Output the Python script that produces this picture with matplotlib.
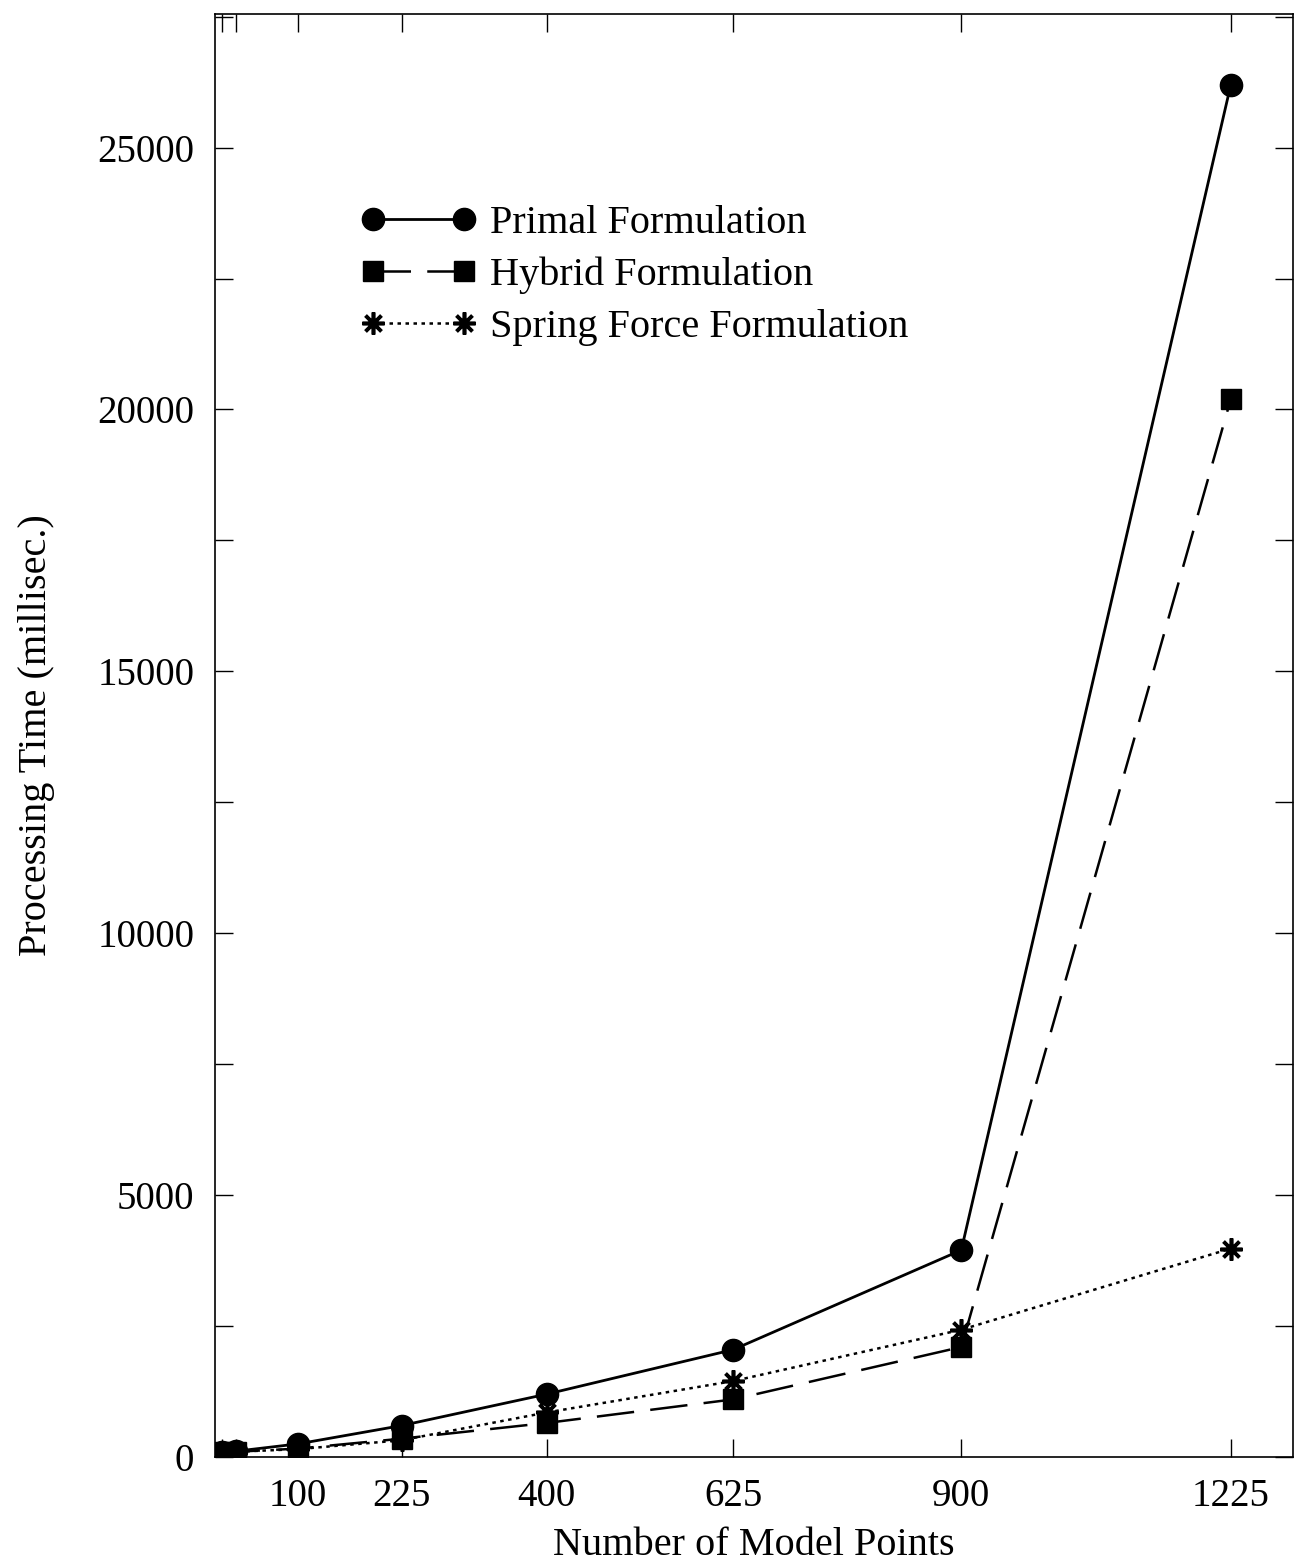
import numpy as np
import matplotlib.pyplot as plt
from matplotlib.ticker import MultipleLocator, FixedLocator

plt.rcParams['font.family'] = ['Liberation Serif', 'DejaVu Serif']

# data
n_points = [9, 25, 100, 225, 400, 625, 900, 1225]
primal = [100, 110, 250, 600, 1200, 2050, 3950, 26200]
hybrid = [90, 100, 160, 350, 650, 1100, 2100, 20200]
spring = [90, 100, 150, 320, 850, 1450, 2430, 3980]

tick_pos = [9, 25, 100, 225, 400, 625, 900, 1225]
tick_lab = ['', '', '100', '225', '400', '625', '900', '1225']

fig = plt.figure(figsize=[12.95, 15.62], dpi=100)
ax = fig.add_axes([215/1295, 1-1457/1562, (1293-215)/1295, (1457-14)/1562])

ax.plot(n_points, primal, color='black', linestyle='-', linewidth=2.0,
        marker='o', markersize=16, label='Primal Formulation')
ax.plot(n_points, hybrid, color='black', linestyle=(0, (15, 6.5)), linewidth=1.8,
        marker='s', markersize=14, label='Hybrid Formulation')
ax.plot(n_points, spring, color='black', linestyle=(0, (1.4, 1.8)), linewidth=1.8,
        marker=(8, 2, 0), markersize=16, markeredgewidth=2.6,
        label='Spring Force Formulation')

ax.set_xlim(0, 1300)
ax.set_ylim(0, 27550)

ax.xaxis.set_major_locator(FixedLocator(tick_pos))
ax.set_xticklabels(tick_lab)
ax.yaxis.set_major_locator(MultipleLocator(5000))
ax.yaxis.set_minor_locator(MultipleLocator(2500))

ax.tick_params(axis='both', which='both', direction='in', top=True, right=True,
               width=1, labelsize=28)
ax.tick_params(axis='both', which='major', length=13)
ax.tick_params(axis='y', which='minor', length=13)
ax.tick_params(axis='x', pad=15)
ax.tick_params(axis='y', pad=15)
for s in ax.spines.values():
    s.set_linewidth(1.2)

ax.set_xlabel('Number of Model Points', fontsize=29, labelpad=9)
ax.set_ylabel('Processing Time (millisec.)', fontsize=29, labelpad=30)

leg = ax.legend(loc='upper left', bbox_to_anchor=(361/1295, 1-205/1562),
                bbox_transform=fig.transFigure, frameon=False, fontsize=29,
                numpoints=2, handlelength=2.85, handletextpad=0.36,
                labelspacing=0.36, borderpad=0, borderaxespad=0)

plt.savefig('out.png', dpi=100)
